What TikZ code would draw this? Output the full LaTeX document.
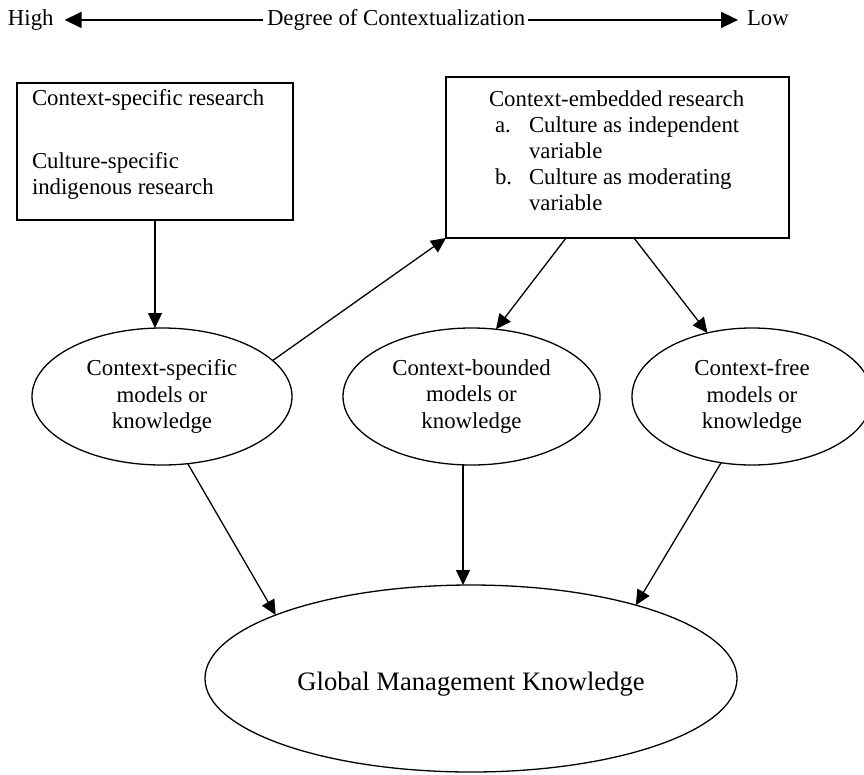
\documentclass[tikz,border=0pt]{standalone}
\usepackage{fontspec}
\setmainfont{Liberation Serif}
\usetikzlibrary{shapes.geometric,arrows.meta,calc}
\begin{document}
\begin{tikzpicture}[x=1pt,y=-1pt,
  every node/.style={inner sep=0pt, outer sep=0pt},
  txt/.style={font=\fontsize{22.8}{26}\selectfont},
  boxshape/.style={draw, line width=1.3pt, rectangle},
  ell/.style={draw, line width=1.3pt, ellipse, align=center, font=\fontsize{22.8}{26.5}\selectfont},
  arr/.style={line width=1.3pt, -{Triangle[length=15pt,width=14pt]}},
  bigarr/.style={line width=1.6pt, -{Triangle[length=17pt,width=16pt]}}]
\useasboundingbox (0,0) rectangle (864,774);
\clip (0,0) rectangle (864,774);

% scale of contextualization
\node[txt, anchor=base west] (hi) at (8,25.5) {High};
\node[txt, anchor=base west] (deg) at (267,25.5) {Degree of Contextualization};
\node[txt, anchor=base west] (lo) at (747,25.5) {Low};
\draw[bigarr] ([xshift=-4pt]deg.west) -- ([xshift=11pt]deg.west -| hi.east);
\draw[bigarr] ([xshift=3pt]deg.east) -- ([xshift=-9pt]deg.east -| lo.west);

% boxes
\node[boxshape, minimum width=276pt, minimum height=137pt] (b1) at (155,151.5) {};
\node[txt, anchor=north west, align=left] (b1t) at (32,89.4)
  {Context-specific research\\[37pt]Culture-specific\\indigenous research};

\node[boxshape, minimum width=343pt, minimum height=161pt] (b2) at (617.5,157.5) {};
\node[txt, anchor=north west, align=left] (b2t) at (489,90.4)
  {Context-embedded research\\
   \hspace*{6pt}\makebox[34pt][l]{a.}Culture as independent\\
   \hspace*{40pt}variable\\
   \hspace*{6pt}\makebox[34pt][l]{b.}Culture as moderating\\
   \hspace*{40pt}variable};

% ellipses
\node[ell, minimum width=260pt, minimum height=137pt] (e1) at (162,396.5) {Context-specific\\models or\\knowledge};
\node[ell, minimum width=257pt, minimum height=137pt] (e2) at (471.5,396.5) {Context-bounded\\models or\\knowledge};
\node[ell, minimum width=240pt, minimum height=137pt] (e3) at (752,396.5) {Context-free\\models or\\knowledge};
\node[ell, minimum width=532pt, minimum height=187pt, font=\fontsize{26.6}{30}\selectfont,
      text height=30pt, text depth=6pt] (g) at (471,678.5) {Global Management Knowledge};

% connectors
\draw[arr] (b1.south) -- (b1.south |- e1.north);
\draw[arr] (e1.18) -- (b2.south west);
\draw[arr] ($(b2.south)+(-51.5,0)$) -- (e2.70);
\draw[arr] ($(b2.south)+(16.5,0)$) -- (e3.125);
\draw[arr] (e1.-69) -- (g.162);
\coordinate (e2s) at ($(e2.south)+(-8.5,0)$);
\draw[arr] (e2s) -- (e2s |- g.north);
\draw[arr] (e3.-115) -- (g.24);
\end{tikzpicture}
\end{document}
